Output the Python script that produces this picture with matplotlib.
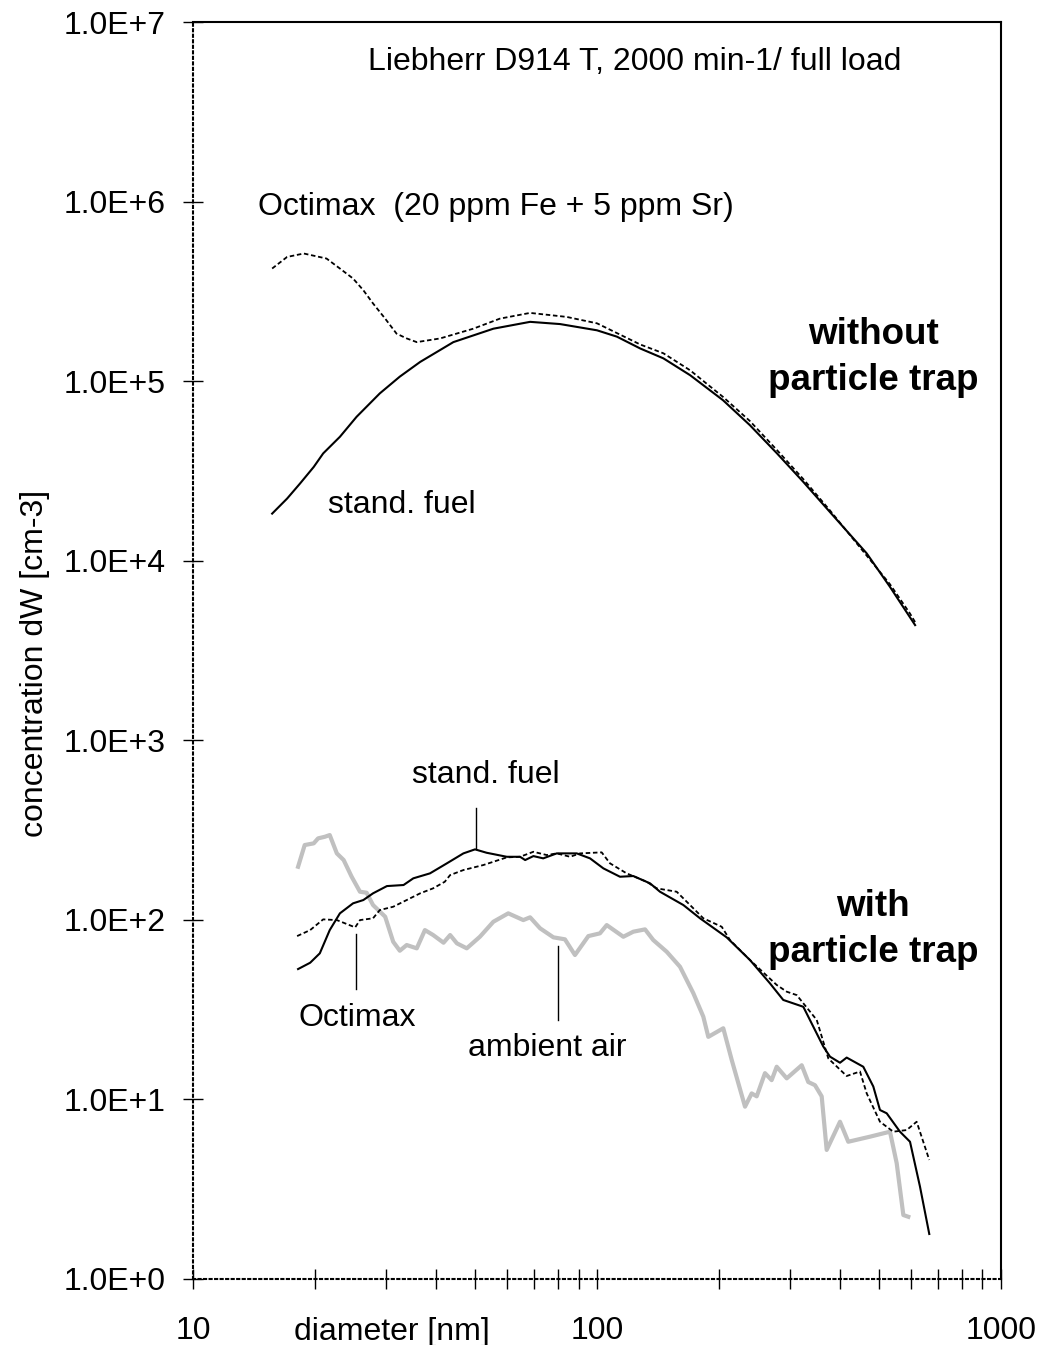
import math
import matplotlib
matplotlib.use("Agg")
import matplotlib.pyplot as plt
from matplotlib.ticker import FixedLocator, NullFormatter, FuncFormatter

plt.rcParams['font.family'] = ['Liberation Sans', 'DejaVu Sans']

# without particle trap
d_std_hi = [15.7, 17.1, 18.4, 19.9, 21.0, 23.1, 25.4, 29.0, 32.5, 36.5, 44.1,
            55.4, 68.3, 81.0, 100, 112, 128, 146, 170, 205, 239, 279, 324,
            377, 465, 531, 613]
c_std_hi = [1.83e4, 2.22e4, 2.69e4, 3.33e4, 3.96e4, 4.90e4, 6.33e4, 8.55e4,
            1.06e5, 1.28e5, 1.65e5, 1.96e5, 2.14e5, 2.08e5, 1.92e5, 1.77e5,
            1.52e5, 1.34e5, 1.08e5, 7.84e4, 5.69e4, 3.96e4, 2.75e4, 1.87e4,
            1.10e4, 7.16e3, 4.38e3]
d_oct_hi = [15.7, 17.1, 18.8, 21.4, 23.1, 24.9, 26.4, 27.9, 29.9, 31.9, 33.8,
            35.8, 40.9, 49.4, 57.5, 68.3, 84.1, 100, 128, 146, 170, 205, 239,
            279, 324, 377, 531, 595, 613]
c_oct_hi = [4.24e5, 4.92e5, 5.14e5, 4.82e5, 4.24e5, 3.73e5, 3.21e5, 2.71e5,
            2.23e5, 1.84e5, 1.73e5, 1.65e5, 1.73e5, 1.96e5, 2.23e5, 2.40e5,
            2.28e5, 2.10e5, 1.60e5, 1.43e5, 1.15e5, 8.18e4, 6.0e4, 4.13e4,
            2.85e4, 1.91e4, 7.4e3, 5.09e3, 4.55e3]

# with particle trap
d_std_lo = [18.2, 19.5, 20.6, 21.8, 23.1, 24.9, 26.4, 27.9, 30.2, 33.2, 35.1,
            38.6, 42.5, 46.7, 49.9, 53.3, 59.8, 64.5, 66.4, 69.6, 73.6, 79.5,
            89.1, 96.1, 103.7, 114.0, 123.0, 135.3, 143.2, 163.6, 179.9, 209.4,
            239.2, 268.0, 289.1, 324.1, 363.2, 377.4, 399.5, 415.0, 456.2,
            483.0, 501.7, 521.3, 562.3, 595.4, 630.2, 664.5]
c_std_lo = [53.2, 57.7, 65.1, 87.7, 108.7, 123.6, 128.9, 140.5, 154.2, 156.3,
            170.3, 181.5, 206.4, 234.5, 246.9, 236.4, 224.5, 224.5, 215.3,
            226.5, 220.0, 234.5, 234.5, 220.0, 193.5, 173.8, 175.4, 159.7,
            143.4, 120.9, 102.0, 79.9, 59.7, 44.3, 35.8, 32.8, 19.7, 17.3,
            16.0, 17.1, 15.2, 11.8, 8.73, 8.37, 6.61, 5.81, 3.27, 1.78]
d_oct_lo = [18.1, 19.5, 21.0, 22.7, 25.2, 25.9, 27.9, 29.0, 31.3, 33.8, 36.5,
            39.3, 42.0, 43.3, 46.7, 52.3, 59.8, 64.5, 69.6, 75.1, 79.5, 85.8,
            90.8, 102.7, 107.7, 118.4, 132.7, 140.5, 157.5, 173.2, 183.3, 203.6,
            213.4, 239.2, 278.5, 294.9, 312.2, 349.9, 373.8, 415.0, 447.7,
            465.2, 501.7, 541.3, 584.2, 618.4, 664.5]
c_oct_lo = [81.2, 87.7, 100.6, 99.7, 90.8, 99.7, 102.0, 113.4, 118.3, 128.9,
            140.5, 149.8, 163.0, 177.6, 189.4, 201.9, 222.8, 224.5, 239.4,
            229.5, 234.5, 224.5, 234.5, 237.6, 206.4, 181.5, 163.0, 149.8,
            143.4, 115.9, 102.0, 91.5, 77.2, 59.7, 43.4, 39.8, 38.1, 27.7,
            16.9, 13.5, 14.3, 10.8, 7.51, 6.61, 6.75, 7.51, 4.60]
d_amb = [18.2, 18.9, 19.9, 20.4, 21.2, 21.8, 22.7, 23.6, 24.7, 25.9, 26.9, 27.9,
         29.9, 31.3, 32.5, 33.8, 35.8, 37.5, 39.3, 41.7, 43.3, 45.0, 47.6, 51.3,
         55.4, 60.3, 65.7, 68.3, 72.3, 78.0, 83.3, 88.2, 95.2, 101.7, 105.7,
         116.2, 123.0, 131.5, 137.8, 148.8, 160.5, 173.2, 183.3, 188.6, 205.4,
         215.5, 232.5, 241.5, 248.5, 260.5, 270.6, 278.5, 294.9, 321.2, 333.4,
         346.4, 359.9, 370.3, 399.5, 418.8, 474.0, 531.2, 551.9, 573.2, 589.7]
c_amb = [197.6, 261.0, 266.7, 284.3, 290.2, 296.6, 234.5, 215.3, 173.8, 143.4,
         141.6, 120.9, 104.1, 75.5, 67.3, 72.4, 69.4, 87.7, 82.3, 74.6, 82.3,
         74.0, 69.4, 80.5, 97.6, 108.7, 99.7, 103.3, 89.7, 79.9, 77.9, 63.7,
         81.2, 84.1, 93.5, 80.5, 85.9, 88.5, 77.2, 66.4, 54.8, 39.0, 28.9, 22.3,
         24.9, 16.6, 9.11, 10.8, 10.4, 14.0, 12.8, 15.2, 13.1, 15.5, 12.5, 12.0,
         10.4, 5.23, 7.51, 5.81, 6.20, 6.61, 4.41, 2.27, 2.22]

fig = plt.figure(figsize=(10.57, 13.45), dpi=100)
ax = fig.add_axes([0.1826, 0.0491, 0.7644, 0.9345])
ax.set_xscale('log')
ax.set_yscale('log')
ax.set_xlim(10, 1000)
ax.set_ylim(1, 1e7)

dash = (0, (2.5, 1.5))
ax.plot(d_amb, c_amb, color='#c0c0c0', lw=3)
ax.plot(d_std_hi, c_std_hi, color='black', lw=1.5)
ax.plot(d_oct_hi, c_oct_hi, color='black', lw=1.3, ls=dash)
ax.plot(d_std_lo, c_std_lo, color='black', lw=1.5)
ax.plot(d_oct_lo, c_oct_lo, color='black', lw=1.3, ls=dash)

# leader lines
ax.plot([50.2, 50.2], [248, 419], color='black', lw=1)
ax.plot([25.3, 25.3], [83.4, 41.2], color='black', lw=1)
ax.plot([80.1, 80.1], [71.5, 27.7], color='black', lw=1)

# frame
for s in ['left', 'bottom']:
    ax.spines[s].set_linestyle(':')
    ax.spines[s].set_linewidth(1.5)
for s in ['top', 'right']:
    ax.spines[s].set_linewidth(1.5)

ax.yaxis.set_major_locator(FixedLocator([10.0 ** k for k in range(8)]))
ax.yaxis.set_minor_locator(FixedLocator([]))
ax.yaxis.set_major_formatter(FuncFormatter(lambda v, p: "1.0E+%d" % round(math.log10(v))))
ax.xaxis.set_major_locator(FixedLocator([10, 100, 1000]))
ax.xaxis.set_minor_locator(FixedLocator([20, 30, 40, 50, 60, 70, 80, 90,
                                         200, 300, 400, 500, 600, 700, 800, 900]))
ax.xaxis.set_major_formatter(FuncFormatter(lambda v, p: "%d" % v))
ax.xaxis.set_minor_formatter(NullFormatter())
ax.tick_params(which='both', direction='inout', length=15, width=1, labelsize=23)
ax.tick_params(axis='y', pad=12)
ax.tick_params(axis='x', pad=19)

ax.set_xlabel("diameter [nm]", fontsize=23)
ax.xaxis.set_label_coords(0.246, -0.030)
ax.set_ylabel("concentration dW [cm-3]", fontsize=23)
ax.yaxis.set_label_coords(-0.177, 0.49)

fs = 23
ax.text(0.547, 0.968, "Liebherr D914 T, 2000 min-1/ full load", transform=ax.transAxes,
        ha='center', va='center', fontsize=fs)
ax.text(0.080, 0.853, "Octimax  (20 ppm Fe + 5 ppm Sr)", transform=ax.transAxes,
        ha='left', va='center', fontsize=fs)
ax.text(0.259, 0.616, "stand. fuel", transform=ax.transAxes, ha='center', va='center', fontsize=fs)
ax.text(0.842, 0.733, "without\nparticle trap", transform=ax.transAxes, ha='center',
        va='center', fontsize=26.5, fontweight='bold', linespacing=1.4)
ax.text(0.842, 0.278, "with\nparticle trap", transform=ax.transAxes, ha='center',
        va='center', fontsize=26.5, fontweight='bold', linespacing=1.4)
ax.text(0.363, 0.401, "stand. fuel", transform=ax.transAxes, ha='center', va='center', fontsize=fs)
ax.text(0.203, 0.208, "Octimax", transform=ax.transAxes, ha='center', va='center', fontsize=fs)
ax.text(0.439, 0.184, "ambient air", transform=ax.transAxes, ha='center', va='center', fontsize=fs)

plt.savefig("out.png", dpi=100)
